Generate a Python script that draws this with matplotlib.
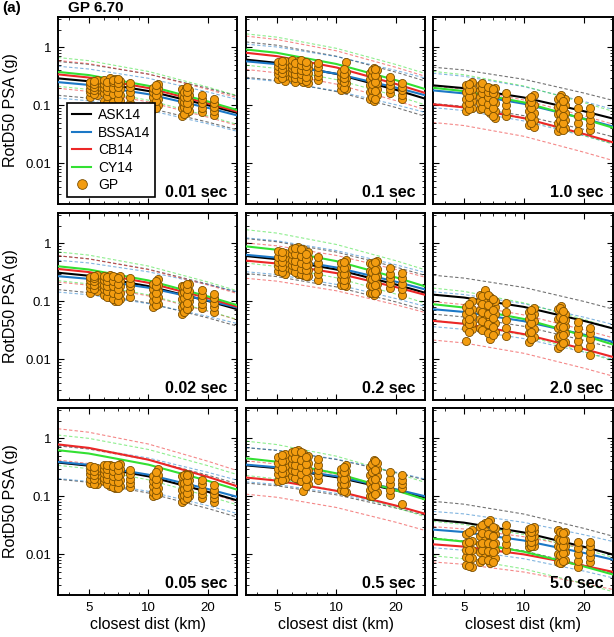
import numpy as np
import matplotlib.pyplot as plt
from matplotlib.ticker import FixedLocator, LogLocator, NullFormatter, FixedFormatter
from matplotlib.lines import Line2D

plt.rcParams['font.family'] = ['Liberation Sans', 'DejaVu Sans']

# --- data (panels in row-major order) ---
periods = ["0.01", "0.1", "1.0", "0.02", "0.2", "2.0", "0.05", "0.5", "5.0"]
curve_dist = [3.5, 5, 10, 20, 28]

# median GMPE curves (g) at curve_dist
ask_med = [[0.29, 0.259, 0.176, 0.100, 0.074],
           [0.61, 0.536, 0.346, 0.184, 0.130],
           [0.22, 0.197, 0.136, 0.079, 0.059],
           [0.31, 0.275, 0.182, 0.101, 0.073],
           [0.60, 0.53, 0.352, 0.194, 0.14],
           [0.130, 0.116, 0.080, 0.046, 0.034],
           [0.38, 0.336, 0.22, 0.119, 0.085],
           [0.34, 0.305, 0.213, 0.126, 0.095],
           [0.0395, 0.0352, 0.0238, 0.0135, 0.0099]]
bssa_med = [[0.25, 0.224, 0.155, 0.090, 0.067],
            [0.57, 0.51, 0.349, 0.201, 0.149],
            [0.18, 0.16, 0.106, 0.059, 0.043],
            [0.27, 0.243, 0.171, 0.103, 0.078],
            [0.63, 0.562, 0.381, 0.217, 0.16],
            [0.073, 0.0655, 0.0454, 0.0267, 0.020],
            [0.39, 0.348, 0.235, 0.133, 0.098],
            [0.35, 0.315, 0.221, 0.132, 0.10],
            [0.0267, 0.0242, 0.0173, 0.0106, 0.0081]]
cb_med = [[0.34, 0.30, 0.198, 0.108, 0.078],
          [0.80, 0.70, 0.447, 0.232, 0.163],
          [0.104, 0.092, 0.060, 0.032, 0.023],
          [0.36, 0.318, 0.208, 0.113, 0.081],
          [0.50, 0.447, 0.305, 0.175, 0.129],
          [0.046, 0.041, 0.0272, 0.0151, 0.011],
          [0.78, 0.68, 0.426, 0.215, 0.149],
          [0.21, 0.186, 0.124, 0.069, 0.050],
          [0.0149, 0.0136, 0.0100, 0.0064, 0.0050]]
cy_med = [[0.375, 0.331, 0.216, 0.116, 0.083],
          [0.91, 0.80, 0.513, 0.27, 0.19],
          [0.20, 0.175, 0.112, 0.058, 0.041],
          [0.40, 0.352, 0.228, 0.121, 0.086],
          [0.88, 0.77, 0.49, 0.257, 0.18],
          [0.089, 0.078, 0.0495, 0.0257, 0.018],
          [0.62, 0.544, 0.35, 0.184, 0.13],
          [0.45, 0.393, 0.248, 0.126, 0.088],
          [0.0187, 0.0166, 0.0111, 0.0062, 0.0045]]

# ln standard deviations (dashed +/- 1 sigma)
ask_sig = [0.67, 0.70, 0.72, 0.67, 0.69, 0.77, 0.66, 0.70, 0.73]
bssa_sig = [0.63, 0.68, 0.68, 0.63, 0.67, 0.69, 0.66, 0.68, 0.72]
cb_sig = [0.55, 0.66, 0.72, 0.52, 0.70, 0.76, 0.62, 0.66, 0.70]
cy_sig = [0.57, 0.62, 0.65, 0.57, 0.66, 0.64, 0.60, 0.68, 0.68]

# GP simulation stations (km) and values per panel
gp_dist = [5.1, 5.5, 6.0, 6.4, 6.8, 7.2, 8.1, 10.6, 11.2, 14.8, 15.4, 16.0, 18.7, 21.4,
           5.3, 6.2, 6.6, 7.0, 10.9, 15.1, 15.7]

gp_001 = [[0.14, 0.17, 0.19, 0.22, 0.25], [0.15, 0.18, 0.21, 0.24, 0.27],
          [0.12, 0.16, 0.20, 0.23, 0.27], [0.13, 0.17, 0.19, 0.24, 0.29],
          [0.10, 0.14, 0.18, 0.22, 0.28], [0.12, 0.15, 0.19, 0.23, 0.26],
          [0.11, 0.14, 0.17, 0.21, 0.24], [0.085, 0.11, 0.14, 0.17, 0.20],
          [0.10, 0.13, 0.16, 0.20, 0.23], [0.065, 0.09, 0.12, 0.15, 0.19],
          [0.075, 0.10, 0.13, 0.16, 0.20], [0.08, 0.10, 0.12, 0.15, 0.18],
          [0.078, 0.09, 0.11, 0.13, 0.15], [0.068, 0.08, 0.095, 0.11, 0.13],
          [0.155, 0.185, 0.205, 0.23, 0.26], [0.11, 0.145, 0.175, 0.21, 0.25],
          [0.115, 0.155, 0.2, 0.25, 0.27], [0.13, 0.16, 0.21, 0.245, 0.28],
          [0.09, 0.12, 0.15, 0.185, 0.22], [0.07, 0.095, 0.115, 0.14, 0.17],
          [0.085, 0.11, 0.14, 0.17, 0.21]]
gp_01 = [[0.28, 0.34, 0.40, 0.47, 0.55], [0.26, 0.32, 0.38, 0.45, 0.58],
         [0.30, 0.36, 0.43, 0.50, 0.60], [0.27, 0.33, 0.40, 0.48, 0.57],
         [0.25, 0.31, 0.37, 0.45, 0.55], [0.24, 0.29, 0.36, 0.43, 0.52],
         [0.27, 0.32, 0.38, 0.45, 0.54], [0.18, 0.22, 0.27, 0.32, 0.38],
         [0.19, 0.24, 0.30, 0.38, 0.55], [0.13, 0.17, 0.22, 0.28, 0.36],
         [0.12, 0.16, 0.21, 0.30, 0.44], [0.15, 0.19, 0.24, 0.30, 0.40],
         [0.16, 0.19, 0.22, 0.26, 0.31], [0.13, 0.15, 0.18, 0.21, 0.24],
         [0.30, 0.36, 0.42, 0.50, 0.57], [0.25, 0.30, 0.35, 0.42, 0.53],
         [0.28, 0.34, 0.41, 0.49, 0.59], [0.26, 0.31, 0.39, 0.47, 0.56],
         [0.2, 0.25, 0.29, 0.34, 0.42], [0.14, 0.18, 0.23, 0.32, 0.40],
         [0.13, 0.175, 0.25, 0.33, 0.42]]
gp_10 = [[0.08, 0.10, 0.13, 0.17, 0.22], [0.09, 0.12, 0.15, 0.19, 0.25],
         [0.085, 0.11, 0.14, 0.18, 0.22], [0.10, 0.12, 0.15, 0.18, 0.21],
         [0.075, 0.10, 0.13, 0.16, 0.20], [0.06, 0.08, 0.11, 0.15, 0.20],
         [0.065, 0.08, 0.10, 0.13, 0.16], [0.045, 0.06, 0.08, 0.10, 0.13],
         [0.042, 0.055, 0.075, 0.10, 0.15], [0.036, 0.05, 0.07, 0.095, 0.13],
         [0.045, 0.06, 0.08, 0.11, 0.15], [0.04, 0.055, 0.075, 0.10, 0.13],
         [0.036, 0.05, 0.065, 0.09, 0.125], [0.038, 0.045, 0.055, 0.07, 0.088],
         [0.085, 0.11, 0.14, 0.18, 0.23], [0.09, 0.12, 0.16, 0.2, 0.24],
         [0.08, 0.105, 0.14, 0.17, 0.21], [0.065, 0.09, 0.12, 0.16, 0.19],
         [0.05, 0.065, 0.09, 0.115, 0.14], [0.04, 0.055, 0.075, 0.1, 0.14],
         [0.038, 0.05, 0.065, 0.09, 0.12]]
gp_002 = [[0.14, 0.17, 0.20, 0.23, 0.26], [0.15, 0.18, 0.21, 0.24, 0.28],
          [0.13, 0.16, 0.19, 0.23, 0.27], [0.12, 0.15, 0.19, 0.23, 0.28],
          [0.10, 0.13, 0.17, 0.21, 0.26], [0.11, 0.14, 0.18, 0.22, 0.27],
          [0.12, 0.15, 0.18, 0.21, 0.25], [0.08, 0.10, 0.13, 0.16, 0.20],
          [0.09, 0.12, 0.15, 0.19, 0.24], [0.06, 0.08, 0.11, 0.14, 0.18],
          [0.07, 0.09, 0.12, 0.15, 0.19], [0.08, 0.10, 0.12, 0.15, 0.20],
          [0.078, 0.09, 0.11, 0.13, 0.155], [0.065, 0.08, 0.095, 0.115, 0.135],
          [0.16, 0.19, 0.22, 0.25, 0.27], [0.12, 0.15, 0.18, 0.22, 0.26],
          [0.11, 0.14, 0.18, 0.22, 0.27], [0.1, 0.13, 0.16, 0.2, 0.25],
          [0.085, 0.11, 0.14, 0.18, 0.22], [0.065, 0.085, 0.115, 0.145, 0.185],
          [0.075, 0.095, 0.13, 0.165, 0.2]]
gp_02 = [[0.33, 0.40, 0.48, 0.58, 0.72], [0.30, 0.37, 0.46, 0.56, 0.68],
         [0.34, 0.42, 0.52, 0.64, 0.80], [0.30, 0.38, 0.48, 0.62, 0.85],
         [0.28, 0.35, 0.44, 0.56, 0.78], [0.27, 0.34, 0.43, 0.55, 0.70],
         [0.23, 0.29, 0.36, 0.45, 0.58], [0.19, 0.24, 0.30, 0.37, 0.46],
         [0.18, 0.23, 0.30, 0.39, 0.52], [0.14, 0.19, 0.25, 0.33, 0.45],
         [0.13, 0.17, 0.23, 0.31, 0.42], [0.15, 0.20, 0.27, 0.36, 0.50],
         [0.17, 0.21, 0.25, 0.30, 0.37], [0.13, 0.16, 0.20, 0.25, 0.31],
         [0.32, 0.39, 0.47, 0.57, 0.7], [0.32, 0.4, 0.5, 0.66, 0.83],
         [0.29, 0.36, 0.46, 0.59, 0.8], [0.27, 0.34, 0.42, 0.53, 0.66],
         [0.19, 0.235, 0.29, 0.38, 0.48], [0.14, 0.18, 0.24, 0.32, 0.44],
         [0.14, 0.19, 0.26, 0.35, 0.48]]
gp_20 = [[0.021, 0.035, 0.045, 0.06, 0.08], [0.033, 0.042, 0.055, 0.075, 0.10],
         [0.035, 0.05, 0.07, 0.10, 0.13], [0.04, 0.055, 0.08, 0.11, 0.155],
         [0.022, 0.032, 0.05, 0.075, 0.12], [0.03, 0.042, 0.06, 0.08, 0.10],
         [0.025, 0.035, 0.048, 0.065, 0.095], [0.02, 0.028, 0.038, 0.05, 0.065],
         [0.024, 0.033, 0.045, 0.06, 0.078], [0.016, 0.024, 0.035, 0.05, 0.075],
         [0.018, 0.027, 0.04, 0.058, 0.082], [0.02, 0.028, 0.037, 0.048, 0.06],
         [0.016, 0.021, 0.027, 0.035, 0.044], [0.012, 0.017, 0.022, 0.028, 0.035],
         [0.03, 0.04, 0.05, 0.068, 0.09], [0.032, 0.045, 0.065, 0.09, 0.125],
         [0.028, 0.04, 0.06, 0.085, 0.13], [0.026, 0.036, 0.052, 0.07, 0.11],
         [0.022, 0.03, 0.042, 0.055, 0.072], [0.017, 0.025, 0.038, 0.054, 0.078],
         [0.019, 0.026, 0.036, 0.05, 0.068]]
gp_005 = [[0.17, 0.20, 0.24, 0.28, 0.33], [0.16, 0.19, 0.23, 0.27, 0.31],
          [0.18, 0.21, 0.25, 0.30, 0.35], [0.15, 0.19, 0.23, 0.28, 0.34],
          [0.14, 0.17, 0.21, 0.26, 0.32], [0.15, 0.19, 0.24, 0.30, 0.36],
          [0.145, 0.17, 0.20, 0.24, 0.28], [0.10, 0.12, 0.15, 0.18, 0.22],
          [0.11, 0.14, 0.18, 0.23, 0.30], [0.08, 0.10, 0.13, 0.17, 0.22],
          [0.09, 0.11, 0.14, 0.18, 0.24], [0.10, 0.12, 0.15, 0.19, 0.23],
          [0.092, 0.11, 0.13, 0.16, 0.19], [0.08, 0.095, 0.11, 0.13, 0.155],
          [0.165, 0.2, 0.23, 0.27, 0.32], [0.16, 0.2, 0.24, 0.29, 0.35],
          [0.145, 0.18, 0.22, 0.27, 0.33], [0.14, 0.175, 0.22, 0.28, 0.35],
          [0.105, 0.13, 0.16, 0.2, 0.26], [0.085, 0.105, 0.135, 0.17, 0.23],
          [0.095, 0.115, 0.145, 0.185, 0.235]]
gp_05 = [[0.18, 0.24, 0.30, 0.38, 0.48], [0.20, 0.26, 0.33, 0.42, 0.54],
         [0.22, 0.28, 0.36, 0.46, 0.58], [0.20, 0.26, 0.34, 0.45, 0.62],
         [0.122, 0.22, 0.30, 0.40, 0.55], [0.16, 0.21, 0.28, 0.37, 0.50],
         [0.19, 0.23, 0.28, 0.35, 0.44], [0.13, 0.16, 0.20, 0.25, 0.30],
         [0.12, 0.16, 0.21, 0.27, 0.34], [0.10, 0.13, 0.17, 0.23, 0.32],
         [0.11, 0.15, 0.21, 0.29, 0.42], [0.12, 0.16, 0.22, 0.30, 0.38],
         [0.105, 0.13, 0.16, 0.20, 0.26], [0.075, 0.14, 0.16, 0.19, 0.23],
         [0.19, 0.25, 0.31, 0.40, 0.51], [0.21, 0.27, 0.35, 0.45, 0.6],
         [0.18, 0.24, 0.32, 0.42, 0.58], [0.15, 0.2, 0.27, 0.36, 0.48],
         [0.125, 0.16, 0.2, 0.26, 0.32], [0.1, 0.14, 0.19, 0.26, 0.36],
         [0.11, 0.15, 0.2, 0.28, 0.4]]
gp_50 = [[0.0065, 0.009, 0.012, 0.016, 0.022], [0.006, 0.0085, 0.012, 0.017, 0.026],
         [0.0075, 0.011, 0.015, 0.021, 0.03], [0.009, 0.013, 0.018, 0.025, 0.034],
         [0.007, 0.01, 0.014, 0.02, 0.039], [0.0085, 0.012, 0.016, 0.022, 0.028],
         [0.012, 0.015, 0.019, 0.025, 0.032], [0.0135, 0.016, 0.019, 0.023, 0.027],
         [0.014, 0.017, 0.021, 0.025, 0.03], [0.0075, 0.01, 0.014, 0.019, 0.026],
         [0.007, 0.0095, 0.013, 0.017, 0.022], [0.008, 0.011, 0.014, 0.018, 0.024],
         [0.006, 0.0078, 0.01, 0.013, 0.0165], [0.0075, 0.009, 0.011, 0.014, 0.0165],
         [0.0062, 0.0088, 0.012, 0.0165, 0.024], [0.008, 0.012, 0.016, 0.023, 0.032],
         [0.008, 0.0115, 0.016, 0.022, 0.036], [0.0075, 0.011, 0.015, 0.021, 0.03],
         [0.0138, 0.0165, 0.02, 0.024, 0.028], [0.0072, 0.0098, 0.0135, 0.018, 0.024],
         [0.0078, 0.0105, 0.014, 0.018, 0.023]]

gp_panels = [gp_001, gp_01, gp_10, gp_002, gp_02, gp_20, gp_005, gp_05, gp_50]

models = [("ASK14", ask_med, ask_sig, "#000000"),
          ("BSSA14", bssa_med, bssa_sig, "#1c78c6"),
          ("CB14", cb_med, cb_sig, "#ec2727"),
          ("CY14", cy_med, cy_sig, "#33e033")]

# --- layout (pixel boxes of the reference) ---
W, H = 614, 637
col_left = [58, 246, 433]
col_w = [179, 179, 180]
row_top = [17, 213, 408]
row_h = 187

fig = plt.figure(figsize=(W / 100, H / 100), dpi=100)

face = "#f39c10"
edge = "#7a4e00"

for i, per in enumerate(periods):
    r, c = i // 3, i % 3
    ax = fig.add_axes([col_left[c] / W, 1 - (row_top[r] + row_h) / H,
                       col_w[c] / W, row_h / H])
    ax.set_xscale('log')
    ax.set_yscale('log')

    for name, med, sig, col in models:
        m = np.array(med[i])
        for s in (1, -1):
            ax.plot(curve_dist, m * np.exp(s * sig[i]), color=col, lw=0.8,
                    ls=(0, (3, 2)), alpha=0.55, zorder=2)
    for name, med, sig, col in models:
        ax.plot(curve_dist, med[i], color=col, lw=1.5, zorder=3)

    for d, vals in zip(gp_dist, gp_panels[i]):
        ax.scatter([d] * len(vals), vals, s=34, facecolor=face,
                   edgecolor=edge, linewidths=0.6, zorder=4)

    ax.set_xlim(3.5, 28)
    ax.set_ylim(0.002, 3.3)

    ax.xaxis.set_major_locator(FixedLocator([5, 10, 20]))
    ax.xaxis.set_minor_locator(LogLocator(base=10, subs=np.arange(2, 10)))
    ax.yaxis.set_major_locator(FixedLocator([0.01, 0.1, 1]))
    ax.yaxis.set_minor_locator(LogLocator(base=10, subs=np.arange(2, 10)))
    ax.xaxis.set_minor_formatter(NullFormatter())
    ax.yaxis.set_minor_formatter(NullFormatter())
    if r == 2:
        ax.xaxis.set_major_formatter(FixedFormatter(["5", "10", "20"]))
    else:
        ax.xaxis.set_major_formatter(NullFormatter())
    if c == 0:
        ax.yaxis.set_major_formatter(FixedFormatter(["0.01", "0.1", "1"]))
    else:
        ax.yaxis.set_major_formatter(NullFormatter())

    ax.tick_params(which='both', direction='in', top=True, right=True,
                   labelsize=9.5, pad=5)
    ax.tick_params(which='major', length=4, width=0.8)
    ax.tick_params(which='minor', length=2, width=0.6)
    for sp in ax.spines.values():
        sp.set_linewidth(1.4)

    ax.text(0.945, 0.037, per + " sec", transform=ax.transAxes,
            ha='right', va='baseline', fontsize=11.5, fontweight='bold')

    if i == 0:
        handles = [Line2D([], [], color=col, lw=1.5) for _, _, _, col in models]
        handles.append(Line2D([], [], ls='none', marker='o', markersize=7,
                              markerfacecolor=face, markeredgecolor=edge,
                              markeredgewidth=0.6))
        labels = [m[0] for m in models] + ["GP"]
        leg = ax.legend(handles, labels, loc='lower left',
                        bbox_to_anchor=(0.05, 0.037), borderaxespad=0,
                        fontsize=10, handlelength=1.4, handletextpad=0.5,
                        labelspacing=0.25, borderpad=0.35, fancybox=False,
                        framealpha=1, edgecolor='black')
        leg.get_frame().set_linewidth(1.2)
        leg.set_zorder(10)

# labels
for r in range(3):
    yc = 1 - (row_top[r] + row_h / 2) / H
    fig.text(11 / W, yc, "RotD50 PSA (g)", rotation=90, ha='center',
             va='center', fontsize=11.5)
for c in range(3):
    xc = (col_left[c] + col_w[c] / 2) / W
    fig.text(xc, 1 - 624 / H, "closest dist (km)", ha='center', va='center',
             fontsize=11.5)

fig.text(2 / W, 1 - 8 / H, "(a)", ha='left', va='center', fontsize=11,
         fontweight='bold')
fig.text(68 / W, 1 - 8 / H, "GP 6.70", ha='left', va='center', fontsize=11,
         fontweight='bold')

fig.savefig("out.png", dpi=100)
